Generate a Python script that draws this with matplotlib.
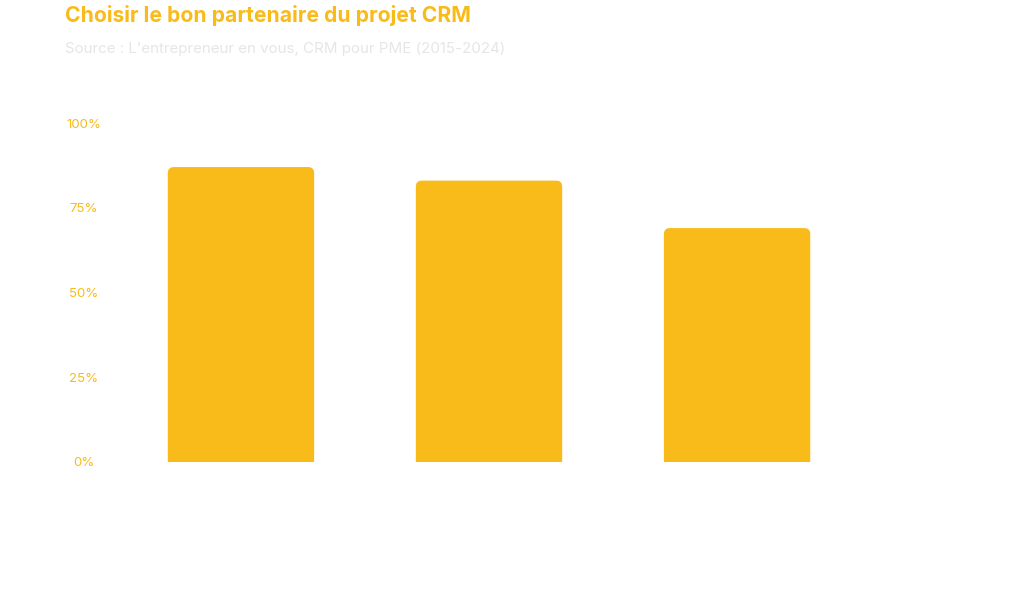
import matplotlib.pyplot as plt
from matplotlib.patches import FancyBboxPatch

# donnees
categories = ["", "", ""]
valeurs = [87, 83, 69]
ticks_y = [0, 25, 50, 75, 100]
labels_y = ["0%", "25%", "50%", "75%", "100%"]

jaune = "#F8BB1A"
gris = "#E6E6E6"

plt.rcParams['font.family'] = ['Inter', 'DejaVu Sans']

fig = plt.figure(figsize=(10.24, 6.11), dpi=100)
ax = fig.add_axes([110 / 1024, 149 / 611, 890 / 1024, 339 / 611])

largeur = 0.59
pos = list(range(len(valeurs)))
bars = ax.bar(pos, valeurs, width=largeur, color=jaune)

# remplacer les barres par des rectangles arrondis en haut
r_x = 0.024
aspect = (100 / 339) / (1 / 248)
for b in bars:
    x0, h = b.get_x(), b.get_height()
    p = FancyBboxPatch((x0 + r_x, -10), largeur - 2 * r_x, h + 10 - r_x * aspect,
                       boxstyle=f"round,pad={r_x}", mutation_aspect=aspect,
                       facecolor=jaune, edgecolor="none", clip_on=True)
    ax.add_patch(p)
    b.set_visible(False)

ax.set_xlim(-0.528, 3.06)
ax.set_ylim(0, 100)
ax.set_yticks(ticks_y, labels=labels_y)
ax.set_xticks(pos, labels=categories)
ax.tick_params(axis='y', length=0, pad=18.7, labelsize=9.5, labelcolor=jaune)
ax.tick_params(axis='x', length=0, labelcolor="white")
for lbl in ax.get_yticklabels():
    lbl.set_horizontalalignment('center')
for s in ax.spines.values():
    s.set_visible(False)

fig.text(65 / 1024, 1 - 16 / 611, "Choisir le bon partenaire du projet CRM",
         color=jaune, fontsize=15.2, fontweight='bold', va='center', ha='left')
fig.text(65 / 1024, 1 - 49 / 611, "Source : L'entrepreneur en vous, CRM pour PME (2015-2024)",
         color=gris, fontsize=10.9, va='center', ha='left')

fig.savefig("out.png", dpi=100, facecolor="white")
